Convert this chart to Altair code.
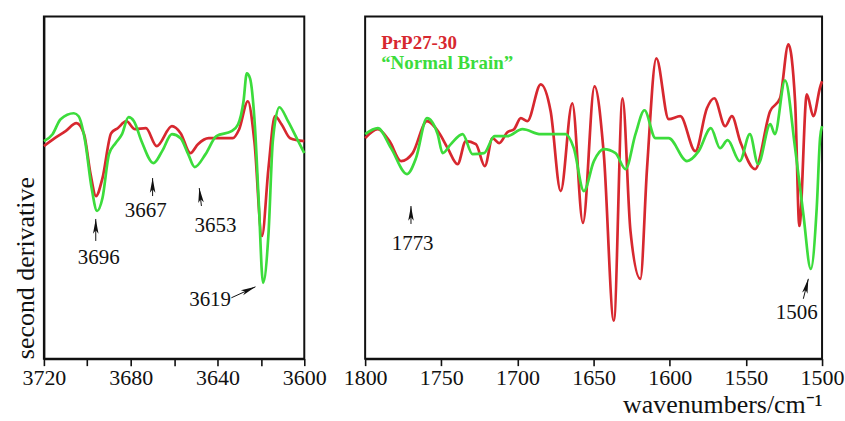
import altair as alt
import pandas as pd

# ---------------- data ----------------
# values are second-derivative in arbitrary units
left_red_wn = [3720, 3715, 3710, 3705, 3701.5, 3698.5, 3696, 3693, 3689, 3686, 3682, 3678, 3673, 3668,
               3661, 3657, 3652.5, 3649, 3644, 3633, 3630, 3626, 3623, 3619.5, 3616.5, 3613.5, 3610.5,
               3606.5, 3600]
left_red_val = [5, 13, 20, 28, 17, -23, -45, -27, 18, 23, 30, 22, 23, 5,
                25, 18, -2, 7, 13, 13, 22, 50, 10, -85, -17, 35, 27,
                13, 10]

left_green_wn = [3720, 3716, 3712.3, 3706.2, 3704, 3701, 3698, 3695.5, 3693, 3690, 3687, 3684, 3681,
                 3678.5, 3675, 3669.5, 3665.5, 3661, 3657, 3653.5, 3650.5, 3645.5, 3640.5, 3633.5,
                 3630.5, 3628, 3626.5, 3625, 3622.7, 3621, 3619, 3616.5, 3614.5, 3611.5, 3607.5,
                 3603.5, 3600]
left_green_val = [10, 17, 32, 38, 35, 10, -37, -60, -47, -3, 8, 17, 34,
                  30, 10, -12, 0, 17, 13, -3, -16, -3, 15, 20,
                  27, 50, 78, 73, 23, -50, -132, -83, 10, 44, 30,
                  13, -2]

right_red_wn = [1800, 1791.7, 1784, 1776.4, 1768.8, 1759.4, 1751.3, 1745.8, 1739.3, 1733.9, 1727.3,
                1721.4, 1716.4, 1712, 1706.6, 1702.2, 1697.8, 1693.5, 1684.7, 1678.2, 1671.6, 1664,
                1657, 1649.4, 1643.3, 1636.7, 1631, 1625.8, 1619.3, 1614.9, 1608.8, 1600.7, 1593.1,
                1583.2, 1575.6, 1570.8, 1563.6, 1559.2, 1553.8, 1543.9, 1534.1, 1527.6, 1522.1,
                1517.7, 1514.9, 1510, 1505.7, 1501.3, 1500]
right_red_val = [13, 22, 10, -10, -2, 30, 18, 3, -13, 10, 7,
                 -15, 13, 8, 19, 22, 33, 30, 67, 40, -40, 48,
                 -72, 65, -3, -170, 53, -80, -128, -17, 93, 32, 35,
                 0, 43, 53, 25, 35, 10, -18, 40, 53, 107,
                 50, -75, 57, 35, 64, 70]

right_green_wn = [1800, 1791.7, 1783, 1772.5, 1766.6, 1759.4, 1752.4, 1749.1, 1743.7, 1736, 1729.5,
                  1722, 1715, 1706.6, 1696.7, 1684.7, 1668.4, 1663, 1656.4, 1649.8, 1643.3, 1635.6,
                  1629, 1622.5, 1616.6, 1609.4, 1600.7, 1588.7, 1581, 1573, 1567, 1562, 1554,
                  1547.4, 1542, 1534, 1531, 1524.3, 1517.7, 1512.3, 1507.4, 1503.5, 1501.3, 1500]
right_green_val = [17, 23, 3, -23, -7, 33, 17, -2, 7, 17, -3,
                   -2, 15, 15, 22, 17, 17, 3, -40, -10, 2, -2,
                   -18, 17, 41, 13, 13, -10, 0, 23, 3, 11, -10,
                   17, -13, 27, 17, 71, 3, -63, -118, -57, 13, 25]

series_names = ["PrP27-30", "Normal Brain"]
series_colors = ["#d7282f", "#3cdc3c"]
legend_labels = ["PrP27-30", "\u201cNormal Brain\u201d"]

# annotations: label, text position, arrow tip, arrow tail, arrow angle
left_ann_label = ["3696", "3667", "3653", "3619"]
left_ann_text_wn = [3694.7, 3673.1, 3640.9, 3643.4]
left_ann_text_val = [-107, -60, -75, -149]
left_ann_tip_wn = [3696.1, 3669.9, 3648.4, 3622.5]
left_ann_tip_val = [-68, -27, -37, -136]
left_ann_tail_wn = [3696.1, 3669.9, 3647.4, 3633.6]
left_ann_tail_val = [-90, -45, -55, -147]
left_ann_angle = [0, 0, 353, 66]

right_ann_label = ["1773", "1506"]
right_ann_text_wn = [1768.8, 1516.6]
right_ann_text_val = [-93, -162]
right_ann_tip_wn = [1769.9, 1509.0]
right_ann_tip_val = [-55, -128]
right_ann_tail_wn = [1769.9, 1512.3]
right_ann_tail_val = [-73, -148]
right_ann_angle = [0, 14]

legend_wn = [1789.5, 1789.5]
legend_val = [108, 88]

Y_DOMAIN = [-208, 135]
H = 343
FONT = "Liberation Serif"
ARROW = "M0,0L0.32,1.7L0,1.3L-0.32,1.7Z"


def lines_df(rw, rv, gw, gv):
    a = pd.DataFrame({"wn": rw, "val": rv, "series": series_names[0], "i": range(len(rw))})
    b = pd.DataFrame({"wn": gw, "val": gv, "series": series_names[1], "i": range(len(gw))})
    return pd.concat([a, b], ignore_index=True)


def panel(df, xdom, tick_vals, long_mod, label_mod, width, ann, yaxis, xtitle, legend=None):
    xscale = alt.Scale(domain=xdom, reverse=True, nice=False, zero=False)
    yscale = alt.Scale(domain=Y_DOMAIN, nice=False, zero=False)
    xaxis_kw = dict(
        values=tick_vals, format="d",
        labelExpr=f"datum.value % {label_mod} == 0 ? datum.label : ''",
        tickSize={"condition": {"test": f"datum.value % {long_mod} == 0", "value": 7}, "value": 4},
        labelFontSize=22, labelPadding=2, grid=False, labelFlush=False,
        domainColor="#111", domainWidth=2, tickColor="#111", tickWidth=1.6,
        labelColor="#111", labelFont=FONT,
    )
    if xtitle:
        # scale is reversed, so "start" is the right-hand end
        xaxis_kw.update(title=xtitle, titleFont=FONT, titleFontSize=26, titleFontWeight="normal",
                        titleAnchor="start", titleAlign="right", titleColor="#111", titlePadding=3)
    else:
        xaxis_kw.update(title=None)
    xaxis = alt.Axis(**xaxis_kw)

    if yaxis:
        yax = alt.Axis(title="second derivative", labels=False, ticks=False, grid=False,
                       domainColor="#111", domainWidth=2, titleFont=FONT, titleFontSize=26,
                       titleFontWeight="normal", titleColor="#111", titlePadding=5,
                       titleAnchor="start")
    else:
        yax = None

    lines = alt.Chart(df).mark_line(interpolate="monotone", strokeWidth=2.7).encode(
        x=alt.X("wn:Q", scale=xscale, axis=xaxis),
        y=alt.Y("val:Q", scale=yscale, axis=yax),
        color=alt.Color("series:N", scale=alt.Scale(domain=series_names, range=series_colors), legend=None),
        order=alt.Order("i:Q"),
    )

    label, twn, tval, pwn, pval, lwn, lval, ang = ann
    adf = pd.DataFrame({"label": label, "twn": twn, "tval": tval, "pwn": pwn, "pval": pval,
                        "lwn": lwn, "lval": lval, "ang": ang})
    shafts = alt.Chart(adf).mark_rule(color="#111", strokeWidth=1).encode(
        x=alt.X("lwn:Q", scale=xscale), x2="pwn:Q",
        y=alt.Y("lval:Q", scale=yscale), y2="pval:Q")
    heads = alt.Chart(adf).mark_point(shape=ARROW, filled=True, color="#111", size=300, opacity=1).encode(
        x=alt.X("pwn:Q", scale=xscale), y=alt.Y("pval:Q", scale=yscale), angle=alt.Angle("ang:Q", scale=None))
    texts = alt.Chart(adf).mark_text(font=FONT, fontSize=21, color="#111", baseline="middle").encode(
        x=alt.X("twn:Q", scale=xscale), y=alt.Y("tval:Q", scale=yscale), text="label:N")

    layers = [lines, shafts, heads, texts]
    if legend is not None:
        ldf = pd.DataFrame({"wn": legend_wn, "val": legend_val, "label": legend_labels, "series": series_names})
        leg = alt.Chart(ldf).mark_text(font=FONT, fontSize=19, fontWeight="bold", align="left",
                                        baseline="middle").encode(
            x=alt.X("wn:Q", scale=xscale), y=alt.Y("val:Q", scale=yscale), text="label:N",
            color=alt.Color("series:N", scale=alt.Scale(domain=series_names, range=series_colors), legend=None))
        layers.append(leg)
    return alt.layer(*layers).properties(width=width, height=H)


left_df = lines_df(left_red_wn, left_red_val, left_green_wn, left_green_val)
right_df = lines_df(right_red_wn, right_red_val, right_green_wn, right_green_val)

left = panel(left_df, [3600, 3720], list(range(3600, 3721, 10)), 20, 40, 261,
             (left_ann_label, left_ann_text_wn, left_ann_text_val, left_ann_tip_wn, left_ann_tip_val,
              left_ann_tail_wn, left_ann_tail_val, left_ann_angle), True, None)
right = panel(right_df, [1500, 1800], list(range(1500, 1801, 25)), 50, 50, 458,
              (right_ann_label, right_ann_text_wn, right_ann_text_val, right_ann_tip_wn, right_ann_tip_val,
               right_ann_tail_wn, right_ann_tail_val, right_ann_angle), False,
              "wavenumbers/cm\u207b\u00b9", legend=True)

chart = alt.hconcat(left, right, spacing=15).properties(
    padding={"left": 12, "top": 15, "right": 0, "bottom": 0},
    background="white",
).configure_view(stroke="#111", strokeWidth=2)

chart.save("out.html", embed_options={"renderer": "svg", "actions": False})
